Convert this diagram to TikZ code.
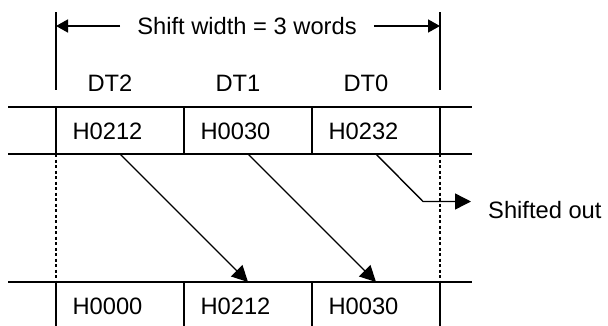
\documentclass[tikz,border=0pt]{standalone}
\usepackage{fontspec}
\setmainfont{Liberation Sans}
\usetikzlibrary{arrows.meta}
\begin{document}
\begin{tikzpicture}[x=1pt,y=-1pt,
  frame/.style={line width=2pt},
  dotline/.style={line width=2pt, dash pattern=on 3pt off 2.5pt},
  shiftarrow/.style={line width=1.4pt,-{Triangle[length=16pt,width=16pt]}},
  widtharrow/.style={line width=1.7pt,-{Triangle[length=12pt,width=13pt]}},
  lbl/.style={font=\fontsize{23.7}{28}\selectfont, inner sep=0pt, anchor=center}]
\useasboundingbox (0,0) rectangle (608,325);
% top dimension marks
\draw[frame] (56,12) -- (56,90);
\draw[frame] (440,12) -- (440,90);
\node[lbl, inner xsep=17pt] (sw) at (247,26) {Shift width = 3 words};
\coordinate (swl) at (56,26);
\coordinate (swr) at (440,26);
\draw[widtharrow] (sw.west) -- (swl);
\draw[widtharrow] (sw.east) -- (swr);
% column labels
\node[lbl] (dt2) at (110,83) {DT2};
\node[lbl] (dt1) at (238,83) {DT1};
\node[lbl] (dt0) at (366,83) {DT0};
% upper row
\draw[frame] (8,107) -- (472,107);
\draw[frame] (8,154) -- (472,154);
\foreach \x in {56,184,312,440} \draw[frame] (\x,107) -- (\x,154);
\node[lbl] (u2) at (107.5,131.5) {H0212};
\node[lbl] (u1) at (235.5,131.5) {H0030};
\node[lbl] (u0) at (363.5,131.5) {H0232};
% dotted side lines
\draw[dotline] (56,154) -- (56,282);
\draw[dotline] (440,154) -- (440,282);
% lower row
\draw[frame] (8,282) -- (472,282);
\foreach \x in {56,184,312,440} \draw[frame] (\x,282) -- (\x,326);
\node[lbl] (l2) at (107.5,306.5) {H0000};
\node[lbl] (l1) at (235.5,306.5) {H0212};
\node[lbl] (l0) at (363.5,306.5) {H0030};
% shift arrows
\coordinate (a1s) at (120,154);
\coordinate (a1e) at (248,282);
\coordinate (a2s) at (248,154);
\coordinate (a2e) at (376,282);
\coordinate (a3s) at (376,154);
\coordinate (a3k) at (423,201.5);
\coordinate (a3e) at (471,201.5);
\draw[shiftarrow] (a1s) -- (a1e);
\draw[shiftarrow] (a2s) -- (a2e);
\draw[shiftarrow] (a3s) -- (a3k) -- (a3e);
\node[lbl, anchor=west] (out) at (488,210) {Shifted out};
\end{tikzpicture}
\end{document}
